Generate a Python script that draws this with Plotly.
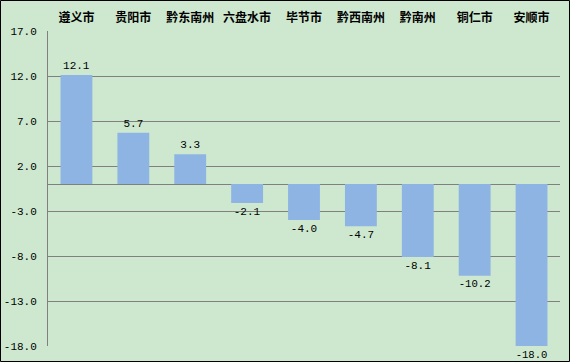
import plotly.graph_objects as go

categories = ["遵义市", "贵阳市", "黔东南州", "六盘水市", "毕节市", "黔西南州", "黔南州", "铜仁市", "安顺市"]
values = [12.1, 5.7, 3.3, -2.1, -4.0, -4.7, -8.1, -10.2, -18.0]
tick_values = [17.0, 12.0, 7.0, 2.0, -3.0, -8.0, -13.0, -18.0]
tick_labels = ["%.1f" % v for v in tick_values]
value_labels = ["%.1f" % v for v in values]

W, H = 570, 362
ml, mr, mt, mb = 48, 10, 31, 16
pw = W - ml - mr
ph = H - mt - mb

fig = go.Figure(go.Bar(
    x=categories, y=values,
    marker=dict(color="#8EB4E3", line=dict(width=0)),
    text=value_labels, textposition="outside", cliponaxis=False,
    textfont=dict(family="Liberation Mono, DejaVu Sans Mono, monospace", size=11, color="#000000"),
    width=0.56,
))

fig.update_layout(
    width=W, height=H, autosize=False,
    margin=dict(l=ml, r=mr, t=mt, b=mb, pad=0, autoexpand=False),
    paper_bgcolor="#CDE8CF", plot_bgcolor="#CDE8CF",
    showlegend=False,
    xaxis=dict(side="top", showgrid=False, showline=False, ticks="", automargin=False,
               tickfont=dict(family="Noto Sans CJK SC", size=12, color="#000000", weight="bold"),
               ticklabelstandoff=6),
    yaxis=dict(range=[-18, 17], tickvals=tick_values, ticktext=tick_labels, automargin=False,
               showgrid=True, gridcolor="#808080", gridwidth=1,
               zeroline=True, zerolinecolor="#808080", zerolinewidth=1,
               showline=True, linecolor="#808080", linewidth=1,
               ticks="", ticklabelstandoff=8,
               tickfont=dict(family="Liberation Mono, DejaVu Sans Mono, monospace", size=11, color="#000000")),
    shapes=[dict(type="rect", xref="paper", yref="paper",
                 x0=(0.5 - ml) / pw, x1=(W - 0.5 - ml) / pw,
                 y0=-(mb - 0.5) / ph, y1=1 + (mt - 0.5) / ph,
                 line=dict(color="#000000", width=1), fillcolor="rgba(0,0,0,0)", layer="above")],
)

fig.write_html("out.html", config={"displayModeBar": False},
               post_script="document.body.style.margin='0';document.body.style.padding='0';")
